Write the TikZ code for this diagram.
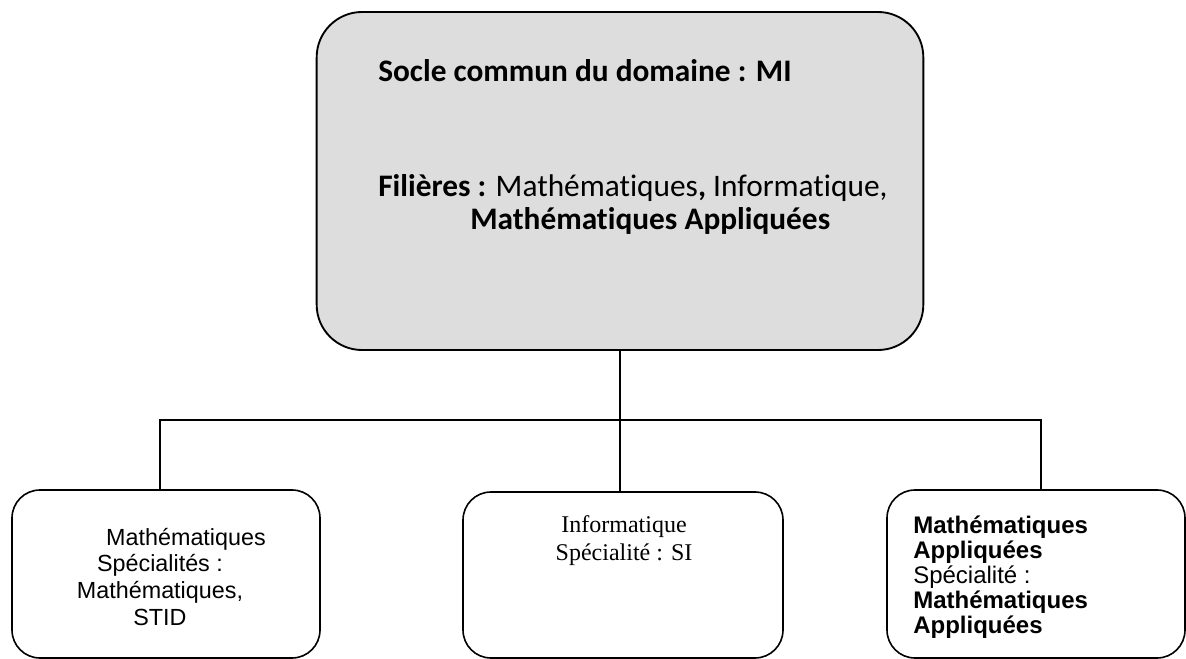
\documentclass[tikz,border=0pt]{standalone}
\usepackage{fontspec}
\newfontfamily\calfont[Ligatures=NoCommon]{Carlito}
\newfontfamily\arialfont{Liberation Sans}
\newfontfamily\timesfont{Liberation Serif}
\definecolor{boxgrey}{RGB}{221,221,221}
\begin{document}
\begin{tikzpicture}[x=0.75pt, y=-0.75pt,
		tronc/.style = {draw, rounded corners=34pt, fill=boxgrey, line width=1.4pt, minimum width=455pt, minimum height=253.5pt},
		spec/.style = {draw, rounded corners=21pt, line width=1.2pt, minimum width=231pt, minimum height=126pt},
		txt/.style = {inner sep=0pt, anchor=base west, align=left}]
				\useasboundingbox (0,0) rectangle (1186,659);
				\clip (0,0) rectangle (1186,659);
				
				\node[tronc] (socle) at (620,181) {};
				\node[spec] (maths) at (166,574) {};
				\node[spec, minimum width=240pt, minimum height=124.5pt] (info) at (623,575) {};
				\node[spec, minimum width=223.5pt] (appli) at (1036,574) {};
				\coordinate (bar) at (620,420);
				
				\node[txt, font=\calfont\fontsize{23.5}{25}\selectfont\bfseries] (titre) at (378,82) {Socle commun du domaine : MI};
				\node[txt, font=\calfont\fontsize{23.5}{25}\selectfont] (filieres) at (378,230) {\textbf{Filières :} Mathématiques\textbf{,} Informatique,\\ \hspace*{69pt}\textbf{Mathématiques Appliquées}};
				\node[txt, align=center, anchor=base, font=\arialfont\fontsize{17.5}{20}\selectfont] (mathslbl) at (160,625) {\hspace*{39pt}Mathématiques\\ Spécialités :\\ Mathématiques,\\ STID};
				\node[txt, align=center, anchor=base, font=\timesfont\fontsize{18}{20.5}\selectfont] (infolbl) at (624,560) {Informatique\\ Spécialité : SI};
				\node[txt, font=\arialfont\fontsize{18}{18.75}\selectfont] (applilbl) at (913,633) {\textbf{Mathématiques}\\ \textbf{Appliquées}\\ Spécialité :\\ \textbf{Mathématiques}\\ \textbf{Appliquées}};
				
				\draw[line width=1.2pt] (socle.south) -- (bar);
				\draw[line width=1.2pt] ([xshift=-4.5pt]maths.north) |- (bar) -| ([xshift=3.75pt]appli.north);
				\draw[line width=1.2pt] ([xshift=-2.25pt]info.north) -- (bar);
			\end{tikzpicture}
\end{document}
